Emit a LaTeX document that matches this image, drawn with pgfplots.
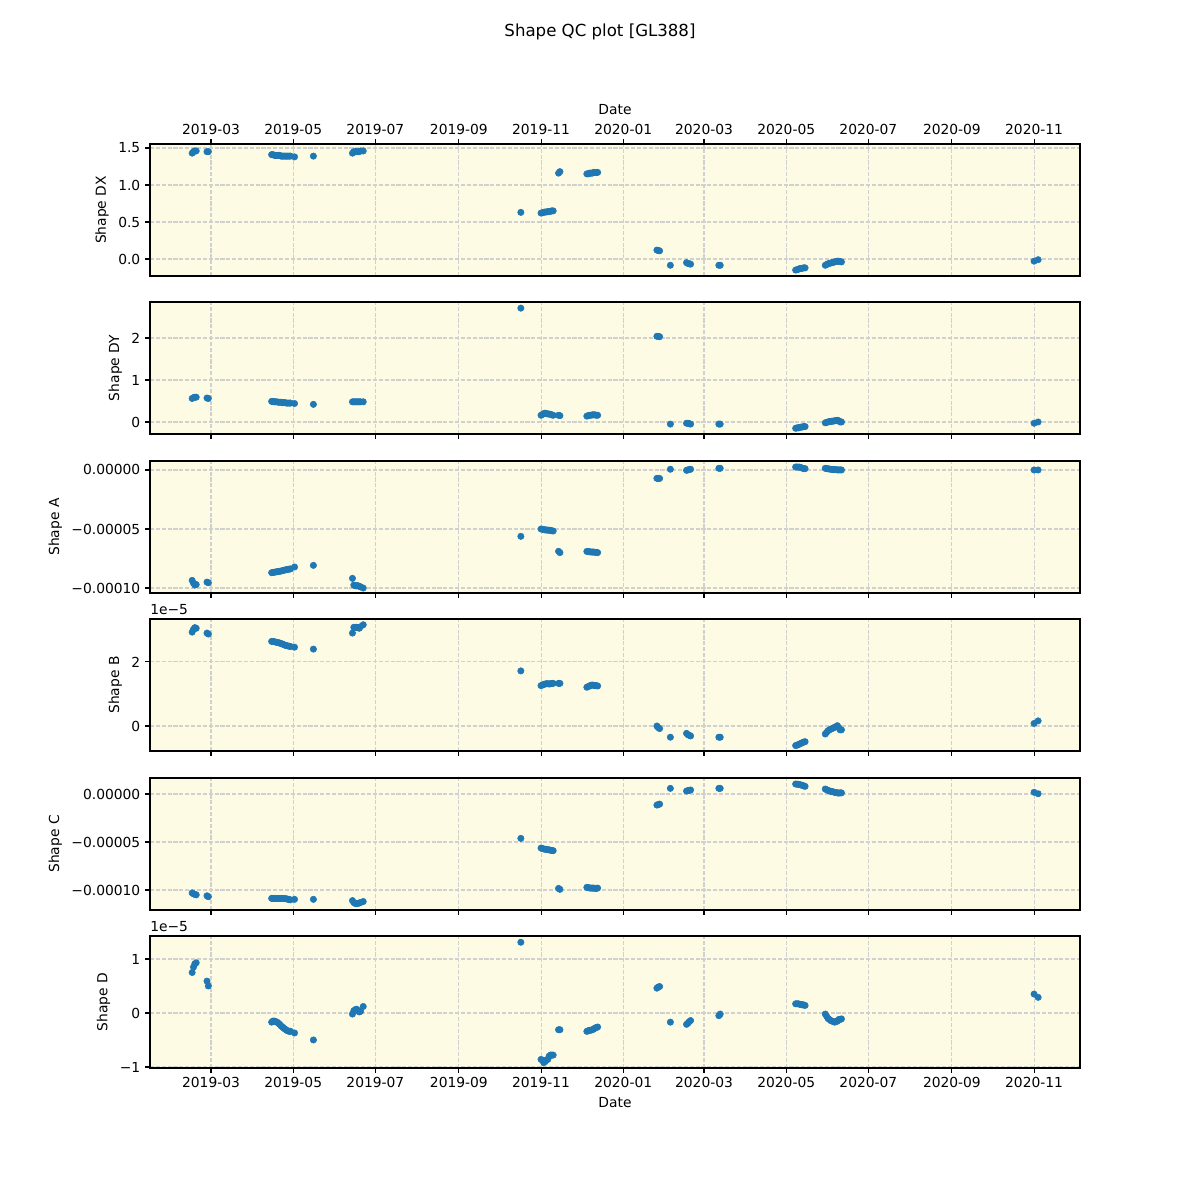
\documentclass[border=0pt]{standalone}
\usepackage{fontspec}
\setmainfont{DejaVu Sans}
\usepackage{pgfplots}
\usepackage{pgfplotstable}
\pgfplotsset{compat=1.18}
\definecolor{bgc}{RGB}{253,251,227}
\definecolor{mplblue}{RGB}{31,119,180}
\definecolor{gridc}{RGB}{208,208,208}

\pgfplotstableread{
t dx dy a b c d
45 1.43 0.56 -9.35 2.93 -10.30 0.75
46 1.45 0.58 -9.60 3.02 -10.40 0.85
47 1.46 0.59 -9.75 3.07 -10.45 0.91
48 1.46 0.59 -9.70 3.05 -10.50 0.93
56 1.45 0.57 -9.50 2.90 -10.60 0.59
57 1.45 0.56 -9.55 2.87 -10.70 0.50
104 1.41 0.49 -8.70 2.64 -10.87 -0.17
105 1.41 0.49 -8.68 2.64 -10.87 -0.15
106 1.40 0.48 -8.66 2.63 -10.87 -0.15
107 1.40 0.48 -8.64 2.62 -10.88 -0.16
108 1.40 0.48 -8.62 2.61 -10.88 -0.17
109 1.40 0.47 -8.60 2.60 -10.88 -0.19
110 1.40 0.47 -8.58 2.59 -10.88 -0.21
111 1.39 0.47 -8.56 2.57 -10.88 -0.24
112 1.39 0.46 -8.53 2.56 -10.88 -0.26
113 1.39 0.46 -8.50 2.54 -10.89 -0.28
114 1.39 0.46 -8.47 2.52 -10.90 -0.30
115 1.39 0.45 -8.44 2.51 -10.92 -0.32
116 1.39 0.45 -8.42 2.50 -10.95 -0.33
117 1.39 0.45 -8.40 2.49 -11.00 -0.34
118 1.39 0.45 -8.38 2.48 -11.02 -0.34
121 1.38 0.44 -8.22 2.46 -10.97 -0.37
135 1.39 0.42 -8.08 2.40 -10.97 -0.50
164 1.43 0.48 -9.18 2.90 -11.10 -0.02
165 1.45 0.48 -9.75 3.08 -11.30 0.04
166 1.45 0.48 -9.80 3.08 -11.40 0.06
167 1.45 0.48 -9.82 3.08 -11.42 0.07
168 1.45 0.48 -9.80 3.07 -11.40 0.05
169 1.45 0.48 -9.85 3.05 -11.35 0.02
170 1.46 0.48 -9.90 3.10 -11.30 0.03
172 1.46 0.48 -10.00 3.16 -11.20 0.12
289 0.63 2.71 -5.62 1.72 -4.62 1.31
304 0.62 0.16 -5.00 1.26 -5.63 -0.86
305 0.625 0.18 -5.02 1.28 -5.68 -0.88
306 0.63 0.20 -5.05 1.30 -5.72 -0.92
307 0.635 0.21 -5.08 1.31 -5.75 -0.90
308 0.635 0.20 -5.08 1.32 -5.77 -0.87
309 0.64 0.19 -5.10 1.32 -5.80 -0.86
310 0.64 0.19 -5.10 1.31 -5.82 -0.80
311 0.645 0.18 -5.12 1.32 -5.85 -0.78
312 0.65 0.17 -5.15 1.33 -5.88 -0.78
313 0.65 0.16 -5.17 1.33 -5.90 -0.78
317 1.16 0.16 -6.89 1.33 -9.83 -0.31
318 1.18 0.15 -7.00 1.33 -9.93 -0.31
338 1.15 0.14 -6.90 1.21 -9.72 -0.34
339 1.15 0.15 -6.92 1.23 -9.75 -0.33
340 1.16 0.16 -6.92 1.25 -9.78 -0.32
341 1.16 0.16 -6.95 1.27 -9.80 -0.32
342 1.16 0.17 -6.95 1.28 -9.80 -0.31
343 1.17 0.17 -6.95 1.27 -9.80 -0.30
344 1.17 0.17 -6.97 1.26 -9.82 -0.28
345 1.17 0.16 -6.98 1.26 -9.83 -0.27
346 1.17 0.16 -7.00 1.25 -9.80 -0.26
390 0.12 2.04 -0.71 0.00 -1.15 0.46
391 0.115 2.04 -0.72 -0.05 -1.10 0.48
392 0.11 2.03 -0.72 -0.08 -1.05 0.49
400 -0.085 -0.05 0.06 -0.35 0.59 -0.17
412 -0.05 -0.03 -0.03 -0.23 0.31 -0.21
413 -0.06 -0.03 0.00 -0.27 0.35 -0.19
414 -0.065 -0.04 0.04 -0.29 0.39 -0.16
415 -0.07 -0.05 0.06 -0.31 0.42 -0.14
436 -0.085 -0.05 0.14 -0.35 0.59 -0.05
437 -0.085 -0.05 0.14 -0.35 0.59 -0.02
493 -0.15 -0.15 0.25 -0.61 1.04 0.17
494 -0.145 -0.14 0.25 -0.60 1.03 0.17
495 -0.14 -0.14 0.24 -0.58 1.02 0.17
496 -0.13 -0.13 0.24 -0.56 0.98 0.16
497 -0.13 -0.12 0.20 -0.54 0.94 0.16
498 -0.125 -0.12 0.15 -0.52 0.90 0.15
499 -0.12 -0.11 0.12 -0.50 0.85 0.15
500 -0.12 -0.11 0.11 -0.49 0.80 0.14
515 -0.085 -0.02 0.14 -0.25 0.52 -0.02
516 -0.075 -0.01 0.12 -0.20 0.45 -0.06
517 -0.065 0.00 0.10 -0.15 0.38 -0.10
518 -0.06 0.01 0.08 -0.12 0.33 -0.12
519 -0.055 0.01 0.06 -0.10 0.28 -0.14
520 -0.05 0.02 0.05 -0.08 0.25 -0.15
521 -0.045 0.02 0.04 -0.06 0.22 -0.16
522 -0.04 0.03 0.03 -0.04 0.18 -0.17
523 -0.035 0.03 0.02 -0.02 0.15 -0.16
524 -0.03 0.04 0.01 0.01 0.12 -0.15
525 -0.03 0.03 0.00 -0.05 0.10 -0.12
526 -0.035 0.00 0.01 -0.12 0.12 -0.12
527 -0.04 0.00 0.00 -0.12 0.12 -0.11
670 -0.03 -0.03 0.00 0.08 0.18 0.35
673 -0.01 0.00 0.00 0.16 0.03 0.29
}\datatable

\pgfplotsset{
  panel/.style={
    scale only axis, width=9.3in, height=1.32in, anchor=south west,
    xmin=13.7, xmax=704.1,
    axis background/.style={fill=bgc},
    axis line style={line width=0.8pt},
    every tick/.style={black, line width=0.8pt},
    tick align=outside, major tick length=3.5pt,
    xtick={59,120,181,243,304,365,425,486,547,609,670},
    xticklabels={2019-03,2019-05,2019-07,2019-09,2019-11,2020-01,2020-03,2020-05,2020-07,2020-09,2020-11},
    grid=major, grid style={gridc, line width=0.8pt, dash pattern=on 2.96pt off 1.28pt},
    ytick pos=left,
    scaled ticks=false,
    /pgf/number format/assume math mode=true,
    tick label style={font=\fontsize{10}{12}\selectfont},
    label style={font=\fontsize{10}{12}\selectfont},
    clip=false,
  },
  pts/.style={only marks, mark=*, mark size=2.3pt, mplblue, mark options={draw=mplblue, fill=mplblue}},
}

\begin{document}
\begin{tikzpicture}
\path[use as bounding box] (0,0) rectangle (12in,12in);
\node[font=\fontsize{12}{14}\selectfont] at (6in,11.68in) {Shape QC plot [GL388]};

% Panel 1 DX
\begin{axis}[panel, at={(1.5in,9.24in)},
  xtick pos=right, xticklabel pos=right, xlabel={Date},
  ymin=-0.23, ymax=1.554, ytick={0,0.5,1,1.5}, yticklabels={0.0,0.5,1.0,1.5},
  ylabel={Shape DX}]
\addplot[pts] table[x=t,y=dx] {\datatable};
\end{axis}

% Panel 2 DY
\begin{axis}[panel, at={(1.5in,7.66in)},
  xtick pos=left, xticklabels={},
  ymin=-0.286, ymax=2.857, ytick={0,1,2}, yticklabels={0,1,2},
  ylabel={Shape DY}]
\addplot[pts] table[x=t,y=dy] {\datatable};
\end{axis}

% Panel 3 A
\begin{axis}[panel, at={(1.5in,6.07in)},
  xtick pos=left, xticklabels={},
  ymin=-10.42, ymax=0.76, ytick={-10,-5,0}, yticklabels={−0.00010,−0.00005,0.00000},
  ylabel={Shape A}]
\addplot[pts] table[x=t,y=a] {\datatable};
\end{axis}

% Panel 4 B
\begin{axis}[panel, at={(1.5in,4.49in)},
  xtick pos=left, xticklabels={},
  ymin=-0.78, ymax=3.34, ytick={0,2}, yticklabels={0,2},
  ylabel={Shape B}]
\addplot[pts] table[x=t,y=b] {\datatable};
\node[anchor=south west, font=\fontsize{10}{12}\selectfont, inner sep=0pt] at (rel axis cs:0,1) [yshift=3pt] {1e−5};
\end{axis}

% Panel 5 C
\begin{axis}[panel, at={(1.5in,2.90in)},
  xtick pos=left, xticklabels={},
  ymin=-12.08, ymax=1.67, ytick={-10,-5,0}, yticklabels={−0.00010,−0.00005,0.00000},
  ylabel={Shape C}]
\addplot[pts] table[x=t,y=c] {\datatable};
\end{axis}

% Panel 6 D
\begin{axis}[panel, at={(1.5in,1.32in)},
  xtick pos=left, xlabel={Date},
  ymin=-1.019, ymax=1.426, ytick={-1,0,1}, yticklabels={−1,0,1},
  ylabel={Shape D}]
\addplot[pts] table[x=t,y=d] {\datatable};
\node[anchor=south west, font=\fontsize{10}{12}\selectfont, inner sep=0pt] at (rel axis cs:0,1) [yshift=3pt] {1e−5};
\end{axis}
\end{tikzpicture}
\end{document}
